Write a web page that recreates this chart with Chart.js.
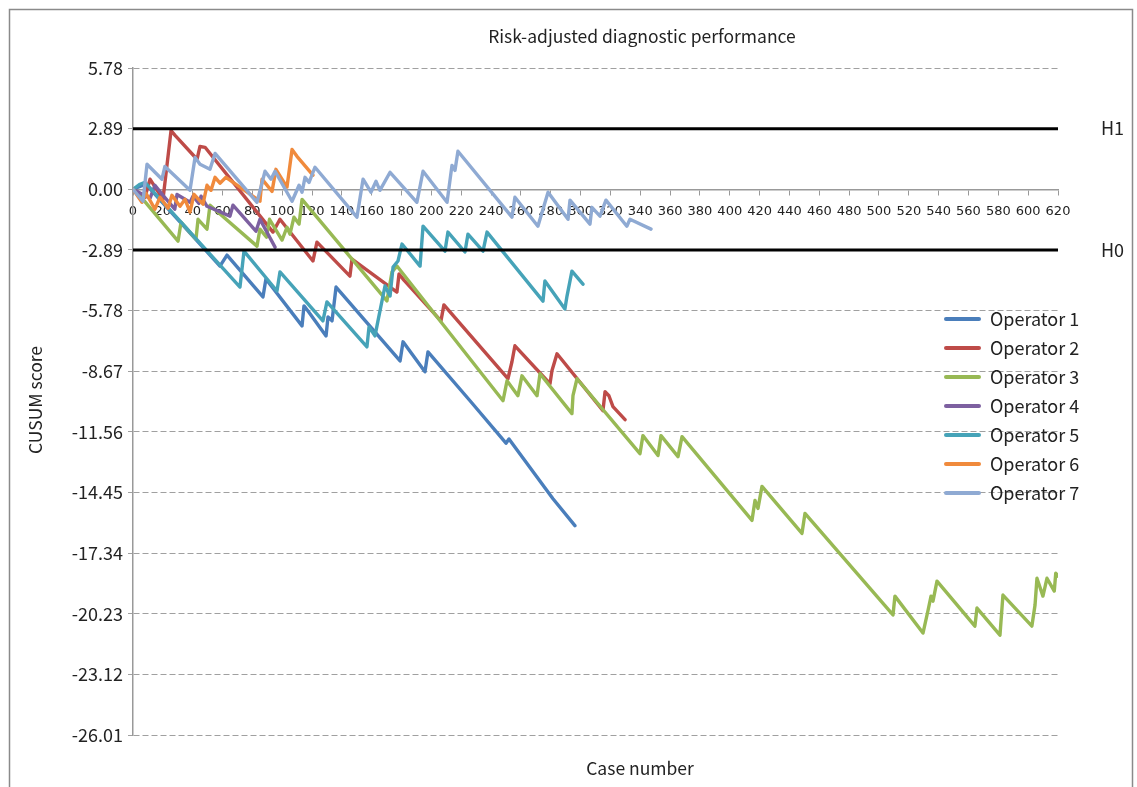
<!DOCTYPE html>
<html>
<head>
<meta charset="utf-8">
<script src="https://cdn.jsdelivr.net/npm/chart.js@4.4.1/dist/chart.umd.min.js"></script>
<style>
html,body{margin:0;padding:0;background:#fff;}
#wrap{width:1137px;height:787px;position:relative;}
</style>
</head>
<body>
<div id="wrap"><canvas id="c" width="1137" height="787"></canvas></div>
<script>
// ---- text ----
const chartTitle = "Risk-adjusted diagnostic performance";
const xTitle = "Case number";
const yTitle = "CUSUM score";
const operatorNames = ["Operator 1","Operator 2","Operator 3","Operator 4","Operator 5","Operator 6","Operator 7"];
const operatorColors = ["#4A7EBB","#BE4B48","#98B954","#7D60A0","#46A3B8","#F08A3C","#8FAAD3"];

// ---- axes ----
const yTickValues = [5.78, 2.89, 0.00, -2.89, -5.78, -8.67, -11.56, -14.45, -17.34, -20.23, -23.12, -26.01];
const xMin = 0, xMax = 620, xStep = 20;
const h1Limit = 2.89, h0Limit = -2.89;
const limitNames = ["H1","H0"];

// ---- series (case number, CUSUM score) read at turning points ----
const op1Case  = [0, 4.7, 8.7, 58.3, 63.0, 87.1, 89.1, 113.3, 114.6, 117.3, 129.4, 130.7, 133.4, 136.1, 179.0, 181.0, 195.7, 197.7, 225.9, 250.0, 252.0, 281.5, 296.2];
const op1Score = [0, 0.14, 0.24, -3.66, -3.14, -5.13, -4.28, -6.51, -5.56, -5.80, -6.99, -6.08, -6.27, -4.66, -8.18, -7.27, -8.70, -7.75, -10.08, -12.10, -11.90, -14.75, -16.03];

const op2Case  = [0, 8.0, 11.4, 20.1, 25.5, 28.2, 42.9, 44.9, 48.3, 93.8, 98.5, 120.6, 123.3, 145.4, 146.8, 176.9, 178.3, 181.6, 206.4, 208.4, 251.3, 254.0, 256.0, 279.5, 280.8, 284.2, 315.0, 316.4, 319.0, 321.7, 329.8];
const op2Score = [0, -0.38, 0.48, -0.48, 2.80, 2.57, 1.43, 2.04, 2.00, -2.04, -1.43, -3.42, -2.52, -4.14, -3.33, -4.90, -4.04, -4.33, -6.27, -5.51, -9.03, -8.22, -7.46, -9.27, -8.65, -7.84, -10.55, -9.65, -9.84, -10.36, -10.98];

const op3Case  = [0, 6.7, 30.2, 32.2, 42.2, 43.6, 49.6, 51.6, 83.1, 85.1, 89.5, 91.5, 99.9, 103.2, 105.2, 107.9, 111.3, 113.3, 170.2, 173.6, 176.9, 248.0, 250.7, 258.0, 260.7, 270.8, 272.8, 294.2, 294.9, 297.6, 339.8, 341.8, 351.9, 353.9, 365.3, 368.0, 414.9, 416.9, 418.9, 421.6, 448.4, 450.4, 509.4, 510.7, 529.5, 532.8, 534.9, 536.2, 538.9, 564.3, 565.7, 581.1, 583.1, 602.5, 604.6, 605.9, 609.9, 612.6, 617.5, 618.5, 620.0];
const op3Score = [0, -0.48, -2.47, -1.57, -2.38, -1.43, -1.90, -0.76, -2.71, -1.90, -2.28, -1.43, -2.42, -1.81, -2.14, -1.33, -1.66, -0.48, -5.32, -3.94, -3.66, -10.08, -9.13, -9.84, -8.89, -9.84, -8.79, -10.69, -9.84, -9.03, -12.60, -11.74, -12.69, -11.74, -12.74, -11.79, -15.78, -14.83, -15.21, -14.16, -16.40, -15.45, -20.29, -19.39, -21.15, -20.10, -19.39, -19.63, -18.68, -20.82, -19.96, -21.25, -19.34, -20.82, -19.82, -18.54, -19.39, -18.54, -19.15, -18.30, -18.44];

const op4Case  = [0, 11.4, 14.7, 20.1, 28.0, 29.5, 38.2, 40.2, 44.2, 45.6, 49.6, 65.0, 67.0, 82.4, 85.1, 95.2];
const op4Score = [0, -0.43, 0.19, -0.29, -0.95, -0.25, -0.62, -0.33, -0.67, -0.33, -0.81, -1.28, -0.76, -2.00, -1.43, -2.76];

const op5Case  = [0, 4.7, 8.0, 71.7, 74.4, 96.5, 98.5, 127.3, 130.0, 156.8, 158.2, 162.2, 164.2, 168.9, 172.3, 174.3, 177.6, 180.3, 192.4, 194.4, 209.1, 211.1, 222.5, 224.5, 234.6, 237.3, 274.8, 276.1, 289.5, 290.9, 294.2, 301.6];
const op5Score = [0, 0.24, 0.33, -4.66, -2.95, -4.85, -3.94, -6.27, -5.37, -7.51, -6.56, -6.99, -6.27, -4.61, -5.09, -3.71, -3.42, -2.61, -3.66, -1.76, -2.95, -2.04, -2.99, -2.14, -2.95, -2.04, -5.33, -4.37, -5.71, -5.09, -3.90, -4.52];

const op6Case  = [0, 6.0, 8.7, 14.7, 18.1, 23.5, 26.1, 31.5, 34.9, 38.2, 40.9, 46.9, 49.6, 52.3, 55.0, 58.3, 62.3, 85.1, 86.5, 93.2, 95.8, 103.2, 106.6, 109.9, 120.6];
const op6Score = [0, -0.62, -0.19, -0.95, -0.38, -0.90, -0.29, -0.81, -0.48, -1.09, -0.24, -0.71, 0.19, -0.05, 0.57, 0.29, 0.57, -0.57, 0.48, -0.10, 0.95, 0.10, 1.90, 1.57, 0.67];

const op7Case  = [0, 6.7, 9.4, 19.4, 21.4, 38.2, 41.6, 44.9, 51.6, 55.0, 83.1, 88.5, 92.5, 95.2, 106.6, 111.3, 113.3, 115.3, 118.0, 122.0, 150.1, 154.2, 159.5, 162.9, 165.5, 172.3, 190.3, 194.4, 210.5, 213.8, 215.8, 217.8, 254.0, 256.0, 271.4, 278.2, 291.6, 292.9, 306.3, 307.6, 313.0, 317.0, 331.0, 333.1, 347.2];
const op7Score = [0, -0.57, 1.19, 0.48, 1.09, -0.05, 1.52, 1.19, 0.95, 1.71, -0.62, 0.86, 0.48, 0.86, -0.57, 0.19, -0.14, 0.57, 0.33, 1.05, -1.33, 0.48, -0.14, 0.38, -0.05, 0.81, -0.62, 0.86, -0.62, 1.14, 0.90, 1.81, -1.33, -0.38, -1.76, -0.14, -1.43, -0.52, -1.66, -0.86, -1.28, -0.52, -1.76, -1.43, -1.90];

const seriesCases  = [op1Case, op2Case, op3Case, op4Case, op5Case, op6Case, op7Case];
const seriesScores = [op1Score, op2Score, op3Score, op4Score, op5Score, op6Score, op7Score];

// ---- build datasets ----
function pairs(xs, ys){ const n = Math.min(xs.length, ys.length); const out=[]; for(let i=0;i<n;i++) out.push({x:xs[i], y:ys[i]}); return out; }
const datasets = [];
datasets.push({label: limitNames[0], data: pairs([xMin, xMax],[h1Limit,h1Limit]), borderColor:'#000', borderWidth:3, order:-1});
datasets.push({label: limitNames[1], data: pairs([xMin, xMax],[h0Limit,h0Limit]), borderColor:'#000', borderWidth:3, order:-1});
operatorNames.forEach((name,i)=>{
  datasets.push({label:name, data: pairs(seriesCases[i], seriesScores[i]), borderColor: operatorColors[i], borderWidth:3.4, order: 6 - i});
});

const FONT = '"Noto Sans CJK KR", "Noto Sans", sans-serif';

const decor = {
  id: 'decor',
  beforeDraw(chart){
    const c = chart.ctx; c.save(); c.fillStyle = '#fff'; c.fillRect(0,0,chart.width,chart.height); c.restore();
  },
  afterDraw(chart){
    const c = chart.ctx, ys = chart.scales.y, area = chart.chartArea;
    c.save();
    c.strokeStyle = '#8a8a8a'; c.lineWidth = 1.5;
    c.strokeRect(9.5, 9.5, 1123, 800);
    c.fillStyle = '#222';
    c.textAlign = 'center'; c.textBaseline = 'middle';
    c.font = '17.5px ' + FONT;
    c.fillText(chartTitle, 642, 36);
    c.fillText(xTitle, 640, 768);
    c.save(); c.translate(35, 400); c.rotate(-Math.PI/2); c.fillText(yTitle, 0, 0); c.restore();
    // limit labels
    c.textAlign = 'left';
    c.font = '18px ' + FONT;
    c.fillText(limitNames[0], area.right + 43, ys.getPixelForValue(h1Limit));
    c.fillText(limitNames[1], area.right + 43, ys.getPixelForValue(h0Limit));
    // legend
    c.font = '18px ' + FONT;
    operatorNames.forEach((name,i)=>{
      const y = 319 + 29*i;
      c.strokeStyle = operatorColors[i]; c.lineWidth = 4; c.lineCap = 'round';
      c.beginPath(); c.moveTo(946, y); c.lineTo(979, y); c.stroke();
      c.fillStyle = '#222';
      c.fillText(name, 990, y);
    });
    c.restore();
  }
};

new Chart(document.getElementById('c'), {
  type: 'line',
  data: { datasets },
  options: {
    responsive: false,
    animation: false,
    devicePixelRatio: 1,
    layout: { padding: { left: 33, top: 68, right: 79, bottom: 52 } },
    plugins: { legend: { display: false }, title: { display: false }, tooltip: { enabled: false } },
    elements: {
      point: { radius: 0, hoverRadius: 0 },
      line: { tension: 0, borderJoinStyle: 'round', borderCapStyle: 'round', fill: false }
    },
    scales: {
      x: {
        type: 'linear', position: { y: 0 }, min: xMin, max: xMax,
        ticks: { stepSize: xStep, autoSkip: false, maxRotation: 0, color: '#222', font: { family: '"DejaVu Sans", sans-serif', size: 13 }, padding: 10 },
        grid: { drawOnChartArea: false, drawTicks: true, tickLength: 5, color: '#999', lineWidth: 1 },
        border: { color: '#999', width: 1.5 }
      },
      y: {
        type: 'linear', min: yTickValues[yTickValues.length-1], max: yTickValues[0],
        afterBuildTicks(axis){ axis.ticks = yTickValues.map(v => ({ value: v })); },
        afterFit(axis){ axis.width = 100; },
        ticks: { color: '#222', font: { family: FONT, size: 18 }, padding: 5, callback: v => Number(v).toFixed(2) },
        grid: { color: '#a0a0a0', lineWidth: 1, tickLength: 5, drawTicks: true },
        border: { color: '#999', width: 1.5, dash: [6, 3] }
      }
    }
  },
  plugins: [decor]
});
</script>
</body>
</html>
